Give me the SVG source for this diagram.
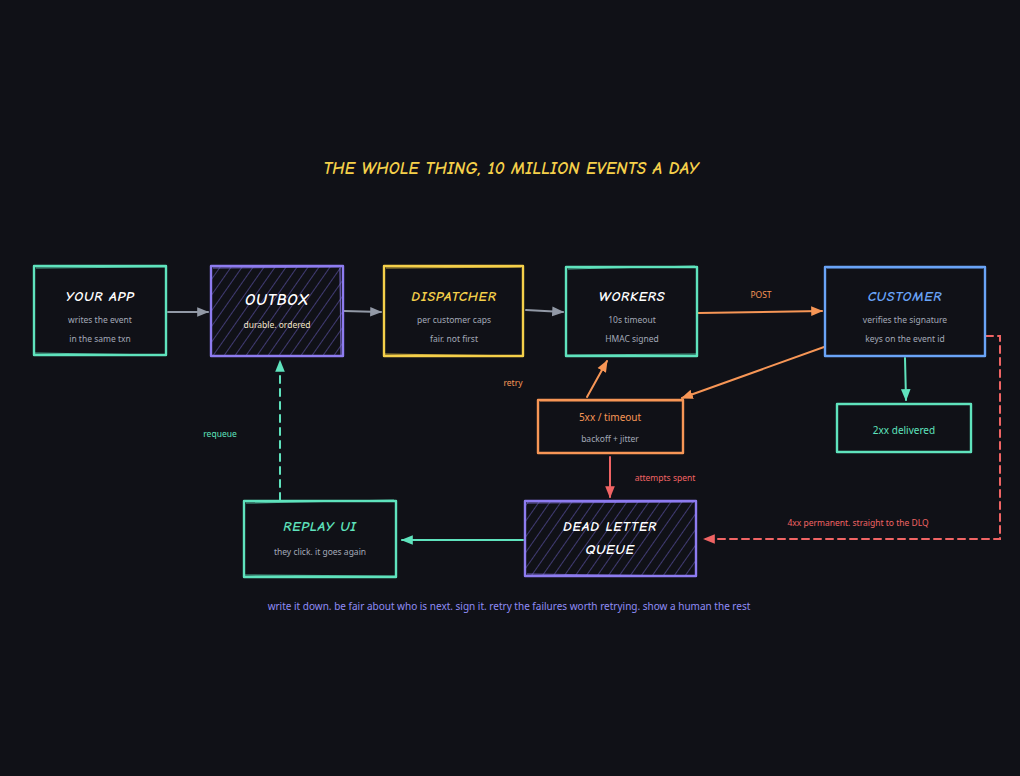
<svg xmlns="http://www.w3.org/2000/svg" width="1020" height="776" viewBox="0 0 1020 776">
<defs>
<style>
.bg{fill:#101117}
.box{fill:#101117;stroke-width:2.4;stroke-linejoin:round}
.sk{fill:none;stroke-width:1.2;opacity:.75}
.teal{stroke:#5fe3bd}
.purple{stroke:#8e7cf0}
.yellow{stroke:#f5d04a}
.blue{stroke:#6aa4f7}
.orange{stroke:#f79656}
.red{stroke:#f06464}
.gray{stroke:#9299a6}
.t{font-family:"Comic Neue","Noto Sans","Liberation Sans",sans-serif;font-weight:700;font-style:italic;text-anchor:middle;letter-spacing:.8px}
.s{font-family:"Noto Sans","Liberation Sans",sans-serif;font-size:8.5px;fill:#a3a9b8;text-anchor:middle}
.lbl{font-family:"Noto Sans","Liberation Sans",sans-serif;font-size:8.5px;text-anchor:middle}
.c{fill:none;stroke-width:2;stroke-linecap:round}
</style>
<pattern id="hatch" patternUnits="userSpaceOnUse" width="9" height="9" patternTransform="rotate(35)">
<line x1="0" y1="0" x2="0" y2="9" stroke="#7064cc" stroke-width="1"/>
</pattern>
<marker id="ao" viewBox="0 0 10 10" refX="9" refY="5" markerWidth="12" markerHeight="12" orient="auto-start-reverse" markerUnits="userSpaceOnUse"><path d="M0,1 L10,5 L0,9 z" fill="#f79656"/></marker>
<marker id="ar" viewBox="0 0 10 10" refX="9" refY="5" markerWidth="12" markerHeight="12" orient="auto-start-reverse" markerUnits="userSpaceOnUse"><path d="M0,1 L10,5 L0,9 z" fill="#f06464"/></marker>
<marker id="at" viewBox="0 0 10 10" refX="9" refY="5" markerWidth="12" markerHeight="12" orient="auto-start-reverse" markerUnits="userSpaceOnUse"><path d="M0,1 L10,5 L0,9 z" fill="#5fe3bd"/></marker>
<marker id="agr" viewBox="0 0 10 10" refX="9" refY="5" markerWidth="12" markerHeight="12" orient="auto-start-reverse" markerUnits="userSpaceOnUse"><path d="M0,1 L10,5 L0,9 z" fill="#9299a6"/></marker>
</defs>
<rect class="bg" x="0" y="0" width="1020" height="776"/>

<text class="t" x="511" y="174" font-size="17" fill="#f5d04a" style="letter-spacing:.3px">THE WHOLE THING, 10 MILLION EVENTS A DAY</text>

<g id="connectors">
<path class="c gray" d="M168,312 L208,312" marker-end="url(#agr)"/>
<path class="c gray" d="M344,311 L381,312" marker-end="url(#agr)"/>
<path class="c gray" d="M526,310 L563,312" marker-end="url(#agr)"/>
<path class="c orange" d="M698,313 L822,311" marker-end="url(#ao)"/>
<text class="lbl" x="761" y="298" fill="#f79656">POST</text>
<path class="c orange" d="M838,342 L682,398" marker-end="url(#ao)"/>
<path class="c orange" d="M587,397 L607,361" marker-end="url(#ao)"/>
<text class="lbl" x="513" y="386" fill="#f79656">retry</text>
<path class="c red" d="M610,457 L610,497" marker-end="url(#ar)"/>
<text class="lbl" x="665" y="481" fill="#f06464">attempts spent</text>
<path class="c teal" d="M905,358 L906,400" marker-end="url(#at)"/>
<path class="c red" d="M986,336 L1000,336 L1000,539 L704,539" stroke-dasharray="7 5" marker-end="url(#ar)"/>
<text class="lbl" x="858" y="526" fill="#f06464">4xx permanent. straight to the DLQ</text>
<path class="c teal" d="M523,540 L402,540" marker-end="url(#at)"/>
<path class="c teal" d="M280,500 L280,361" stroke-dasharray="7 6" marker-end="url(#at)"/>
<text class="lbl" x="220" y="437" fill="#5fe3bd">requeue</text>
</g>

<g id="your-app">
<rect class="box teal" x="34" y="266" width="132" height="89"/>
<path class="sk teal" d="M36,268 L165,267 M35,353 L163,355"/>
<text class="t" x="100" y="301" font-size="14" fill="#ffffff">YOUR APP</text>
<text class="s" x="100" y="323">writes the event</text>
<text class="s" x="100" y="342">in the same txn</text>
</g>

<g id="outbox">
<rect class="box purple" x="211" y="266" width="132" height="90" style="fill:url(#hatch)"/>
<path class="sk purple" d="M213,268 L341,267 M340,268 L341,355"/>
<text class="t" x="277" y="305" font-size="16" fill="#ffffff">OUTBOX</text>
<text class="s" x="277" y="328" style="fill:#f3e4c9">durable. ordered</text>
</g>

<g id="dispatcher">
<rect class="box yellow" x="384" y="266" width="139" height="90"/>
<path class="sk yellow" d="M386,268 L521,267 M385,354 L522,356"/>
<text class="t" x="454" y="301" font-size="14" fill="#f5d04a">DISPATCHER</text>
<text class="s" x="454" y="323">per customer caps</text>
<text class="s" x="454" y="342">fair. not first</text>
</g>

<g id="workers">
<rect class="box teal" x="566" y="267" width="131" height="89"/>
<path class="sk teal" d="M568,269 L695,266 M566,355 L696,354"/>
<text class="t" x="632" y="301" font-size="14" fill="#ffffff">WORKERS</text>
<text class="s" x="632" y="323">10s timeout</text>
<text class="s" x="632" y="342">HMAC signed</text>
</g>

<g id="customer">
<rect class="box blue" x="825" y="267" width="160" height="89"/>
<path class="sk blue" d="M827,268 L983,268"/>
<text class="t" x="905" y="301" font-size="14" fill="#6aa4f7">CUSTOMER</text>
<text class="s" x="905" y="323">verifies the signature</text>
<text class="s" x="905" y="342">keys on the event id</text>
</g>

<g id="retry-5xx">
<rect class="box orange" x="538" y="400" width="145" height="53"/>
<path class="sk orange" d="M540,401 L682,401"/>
<text class="lbl" x="610" y="421" fill="#f79656" style="font-size:10px">5xx / timeout</text>
<text class="s" x="610" y="442">backoff + jitter</text>
</g>

<g id="delivered">
<rect class="box teal" x="837" y="404" width="134" height="48"/>
<text class="lbl" x="904" y="434" fill="#5fe3bd" style="font-size:10px">2xx delivered</text>
</g>

<g id="dlq">
<rect class="box purple" x="525" y="501" width="171" height="75" style="fill:url(#hatch)"/>
<path class="sk purple" d="M527,503 L694,502 M527,574 L695,576"/>
<text class="t" x="610" y="531" font-size="14" fill="#ffffff">DEAD LETTER</text>
<text class="t" x="610" y="554" font-size="14" fill="#ffffff">QUEUE</text>
</g>

<g id="replay-ui">
<rect class="box teal" x="244" y="501" width="152" height="76"/>
<path class="sk teal" d="M246,503 L394,500 M245,575 L395,576"/>
<text class="t" x="320" y="531" font-size="14" fill="#5fe3bd">REPLAY UI</text>
<text class="s" x="320" y="555">they click. it goes again</text>
</g>

<text class="lbl" x="509" y="610" fill="#8f8cf5" style="font-size:10px">write it down. be fair about who is next. sign it. retry the failures worth retrying. show a human the rest</text>
</svg>
